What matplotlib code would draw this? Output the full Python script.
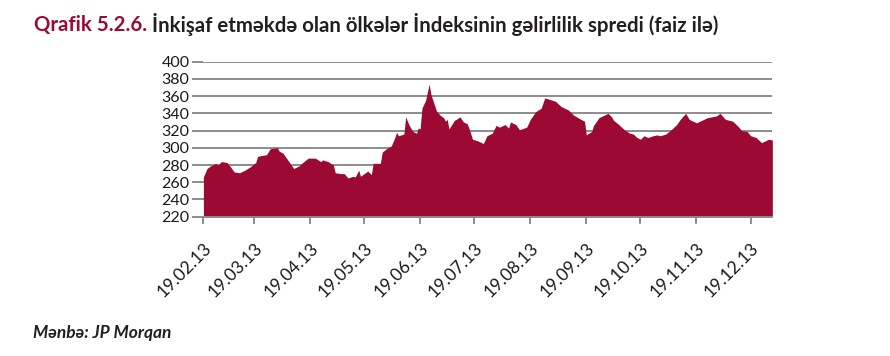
import matplotlib
matplotlib.use("Agg")
import matplotlib.pyplot as plt
import matplotlib.dates as mdates
import numpy as np

# spread readings (basis points)
dates = [
    "2013-02-19", "2013-02-21", "2013-02-23", "2013-02-26", "2013-02-27", "2013-03-01",
    "2013-03-04", "2013-03-06", "2013-03-08", "2013-03-11", "2013-03-14", "2013-03-17",
    "2013-03-20", "2013-03-21", "2013-03-23", "2013-03-26", "2013-03-28", "2013-04-01",
    "2013-04-02", "2013-04-04", "2013-04-07", "2013-04-10", "2013-04-13", "2013-04-15",
    "2013-04-18", "2013-04-22", "2013-04-25", "2013-04-26", "2013-04-29", "2013-05-02",
    "2013-05-03", "2013-05-06", "2013-05-08", "2013-05-10", "2013-05-13", "2013-05-14",
    "2013-05-16", "2013-05-17", "2013-05-19", "2013-05-21", "2013-05-23", "2013-05-24",
    "2013-05-28", "2013-05-29", "2013-06-01", "2013-06-03", "2013-06-05", "2013-06-06",
    "2013-06-07", "2013-06-10", "2013-06-11", "2013-06-13", "2013-06-15", "2013-06-17",
    "2013-06-18", "2013-06-19", "2013-06-20", "2013-06-22", "2013-06-24", "2013-06-25",
    "2013-06-28", "2013-06-30", "2013-07-02", "2013-07-03", "2013-07-04", "2013-07-05",
    "2013-07-08", "2013-07-09", "2013-07-11", "2013-07-13", "2013-07-15", "2013-07-16",
    "2013-07-18", "2013-07-21", "2013-07-24", "2013-07-26", "2013-07-29", "2013-07-31",
    "2013-08-02", "2013-08-05", "2013-08-07", "2013-08-08", "2013-08-11", "2013-08-13",
    "2013-08-17", "2013-08-19", "2013-08-22", "2013-08-25", "2013-08-27", "2013-08-30",
    "2013-09-02", "2013-09-05", "2013-09-09", "2013-09-12", "2013-09-16", "2013-09-18",
    "2013-09-19", "2013-09-22", "2013-09-23", "2013-09-26", "2013-09-29", "2013-10-01",
    "2013-10-03", "2013-10-04", "2013-10-07", "2013-10-10", "2013-10-13", "2013-10-15",
    "2013-10-17", "2013-10-19", "2013-10-21", "2013-10-23", "2013-10-26", "2013-10-28",
    "2013-10-30", "2013-11-02", "2013-11-05", "2013-11-08", "2013-11-10", "2013-11-13",
    "2013-11-15", "2013-11-19", "2013-11-21", "2013-11-25", "2013-11-30", "2013-12-02",
    "2013-12-05", "2013-12-09", "2013-12-12", "2013-12-14", "2013-12-17", "2013-12-19",
    "2013-12-22", "2013-12-25", "2013-12-27", "2013-12-29", "2013-12-31",
]
spread = [
    266, 276, 279, 282, 280, 284,
    283, 278, 272, 271, 274, 278,
    283, 290, 291, 292, 299, 300,
    296, 294, 285, 276, 279, 283,
    288, 288, 284, 286, 284, 280,
    271, 270, 270, 265, 267, 266,
    274, 267, 270, 273, 269, 282,
    282, 295, 300, 302, 312, 318,
    314, 316, 336, 326, 319, 317,
    323, 322, 346, 355, 374, 362,
    343, 338, 335, 331, 333, 322,
    332, 333, 336, 330, 328, 323,
    310, 308, 305, 314, 317, 326,
    324, 327, 323, 330, 327, 321,
    324, 333, 342, 346, 358, 356,
    354, 348, 344, 338, 333, 331,
    315, 319, 326, 335, 338, 340,
    336, 332, 327, 321, 317, 316,
    312, 310, 314, 312, 314, 315,
    314, 316, 321, 327, 333, 340,
    333, 329, 331, 335, 337, 340,
    333, 331, 325, 320, 319, 314,
    312, 306, 308, 310, 309,
]
tick_dates = ["2013-02-19", "2013-03-19", "2013-04-19", "2013-05-19", "2013-06-19",
              "2013-07-19", "2013-08-19", "2013-09-19", "2013-10-19", "2013-11-19",
              "2013-12-19"]
y_ticks = [220, 240, 260, 280, 300, 320, 340, 360, 380, 400]

plt.rcParams['font.family'] = ['Lato', 'DejaVu Sans']

x = np.array(dates, dtype="datetime64[D]")
xt = np.array(tick_dates, dtype="datetime64[D]")

fig = plt.figure(figsize=(8.9, 3.56), dpi=100)
ax = fig.add_axes([0.2285, 0.3913, 0.6393, 0.4354])

red = "#9c0a34"
grid = "#8c8c8c"
ax.fill_between(x, 220, spread, color=red, lw=0, zorder=2)

ax.set_ylim(220, 400)
ax.set_yticks(y_ticks)
ax.set_xlim(x[0], x[-1])
ax.set_xticks(xt)
ax.xaxis.set_major_formatter(mdates.DateFormatter("%d.%m.%y"))
ax.yaxis.grid(True, color=grid, lw=1.4, zorder=1)
for s in ["top", "right", "left"]:
    ax.spines[s].set_visible(False)
ax.spines["bottom"].set_color(grid)
ax.spines["bottom"].set_linewidth(1.4)
ax.tick_params(axis="y", length=8, width=1.4, color=grid, labelsize=11.5, pad=2,
               labelcolor="#1a1a1a")
ax.tick_params(axis="x", length=5, width=1.4, color=grid, labelsize=12.6, pad=12,
               labelcolor="#1a1a1a")
for lab in ax.get_xticklabels():
    lab.set_rotation(45)
    lab.set_ha("right")
    lab.set_rotation_mode("anchor")

t1 = fig.text(34 / 890, 1 - 25 / 356, "Qrafik 5.2.6. ", color=red, fontsize=14.7,
              fontweight="bold", va="center", ha="left")
fig.canvas.draw()
bb = t1.get_window_extent()
fig.text(bb.x1 / 890, 1 - 25 / 356,
         "İnkişaf etməkdə olan ölkələr İndeksinin gəlirlilik spredi (faiz ilə)",
         color="#231f20", fontsize=14.7, fontweight="bold", va="center", ha="left")

fig.text(33 / 890, 1 - 333 / 356, "Mənbə: JP Morqan", color="#231f20", fontsize=12.5,
         fontweight="bold", style="italic", va="center", ha="left")

fig.savefig("out.png", dpi=100)
